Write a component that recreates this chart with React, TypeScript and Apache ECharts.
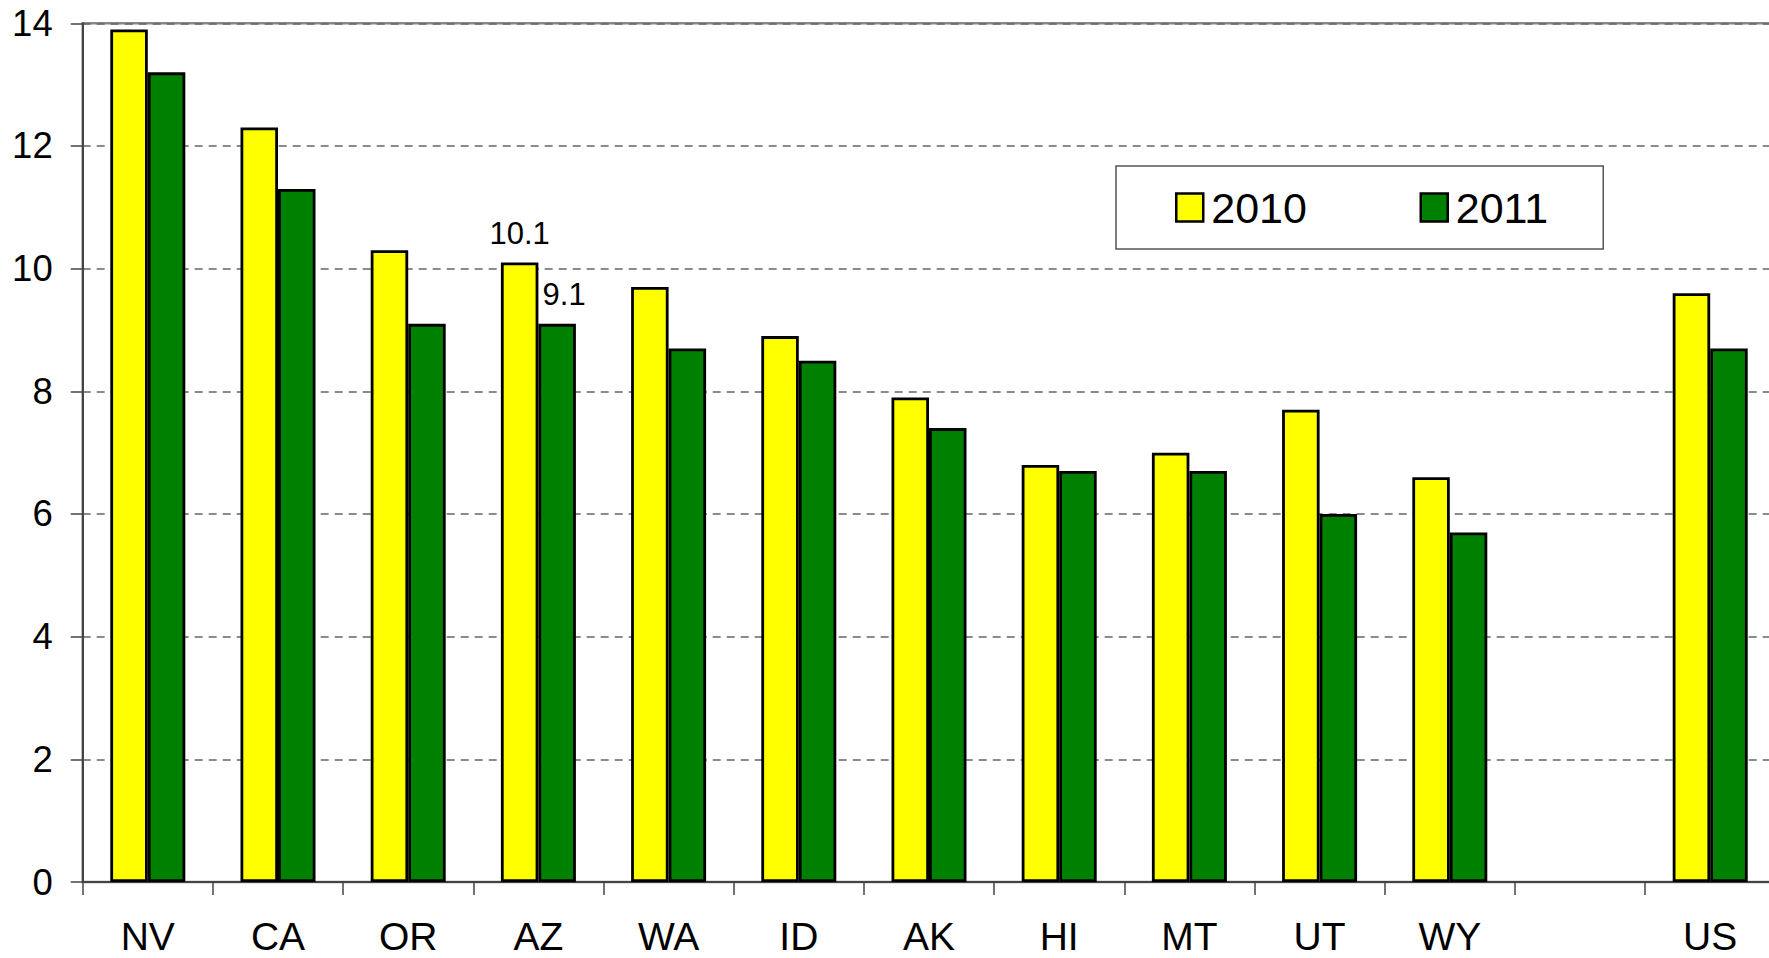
import React, { useEffect, useRef } from "react";
import * as echarts from "echarts";

const categories = ["NV", "CA", "OR", "AZ", "WA", "ID", "AK", "HI", "MT", "UT", "WY", "", "US"];
const values2010: (number | null)[] = [13.9, 12.3, 10.3, 10.1, 9.7, 8.9, 7.9, 6.8, 7.0, 7.7, 6.6, null, 9.6];
const values2011: (number | null)[] = [13.2, 11.3, 9.1, 9.1, 8.7, 8.5, 7.4, 6.7, 6.7, 6.0, 5.7, null, 8.7];
const labelledIndex = 3;
const seriesNames = ["2010", "2011"];
const yTicks = { min: 0, max: 14, interval: 2 };

const FONT = "'Liberation Sans', Arial, Helvetica, sans-serif";

function buildData(values: (number | null)[], offsetX: number) {
  return values.map((v, i) =>
    i === labelledIndex
      ? {
          value: v,
          label: {
            show: true,
            position: "top",
            distance: 14,
            offset: [offsetX, 0],
            fontSize: 31,
            fontFamily: FONT,
            color: "#000",
            formatter: (p: any) => Number(p.value).toFixed(1),
          },
        }
      : v
  );
}

export default function App() {
  const ref = useRef<HTMLDivElement>(null);
  useEffect(() => {
    if (!ref.current) return;
    const chart = echarts.init(ref.current, null, { renderer: "svg" });
    chart.setOption({
      animation: false,
      backgroundColor: "#fff",
      grid: {
        left: 82.7,
        top: 23.3,
        width: 1692.6,
        height: 858.7,
        show: true,
        borderColor: "#888",
        borderWidth: 2.5,
        backgroundColor: "transparent",
      },
      legend: {
        left: 1116,
        top: 166,
        orient: "horizontal",
        padding: [19.5, 55, 19.5, 59],
        borderColor: "#555",
        borderWidth: 1.5,
        backgroundColor: "#fff",
        itemWidth: 27,
        itemHeight: 28,
        itemGap: 112.6,
        icon: "rect",
        itemStyle: { borderColor: "#000", borderWidth: 2.5 },
        textStyle: {
          fontSize: 43,
          lineHeight: 44,
          fontFamily: FONT,
          color: "#000",
          padding: [0, 0, 0, 3],
        },
        data: seriesNames,
      },
      xAxis: {
        type: "category",
        data: categories,
        boundaryGap: true,
        axisLine: { show: true, lineStyle: { color: "#444", width: 2 } },
        axisTick: { show: true, length: 13, lineStyle: { color: "#444", width: 1.5 } },
        axisLabel: {
          fontSize: 39,
          fontFamily: FONT,
          color: "#000",
          margin: 35,
          interval: 0,
        },
        splitLine: { show: false },
      },
      yAxis: {
        type: "value",
        min: yTicks.min,
        max: yTicks.max,
        interval: yTicks.interval,
        axisLine: { show: true, lineStyle: { color: "#444", width: 2 } },
        axisTick: { show: true, length: 12, lineStyle: { color: "#444", width: 1.5 } },
        axisLabel: {
          fontSize: 36.5,
          fontFamily: FONT,
          color: "#000",
          margin: 30,
        },
        splitLine: {
          show: true,
          lineStyle: { color: "#666", width: 1.5, type: [8, 6] },
        },
      },
      series: [
        {
          name: seriesNames[0],
          type: "bar",
          data: buildData(values2010, 0),
          barWidth: 37.5,
          barGap: "0%",
          itemStyle: { color: "#FFFF00", borderColor: "#000", borderWidth: 2.8 },
        },
        {
          name: seriesNames[1],
          type: "bar",
          data: buildData(values2011, 7),
          barWidth: 37.5,
          barGap: "0%",
          itemStyle: { color: "#008000", borderColor: "#000", borderWidth: 2.8 },
        },
      ],
    });
    return () => chart.dispose();
  }, []);
  return (
    <div
      style={{
        position: "absolute",
        left: 0,
        top: 0,
        width: 1769,
        height: 958,
        overflow: "hidden",
        background: "#fff",
      }}
    >
      <div ref={ref} style={{ width: 1790, height: 958 }} />
    </div>
  );
}
